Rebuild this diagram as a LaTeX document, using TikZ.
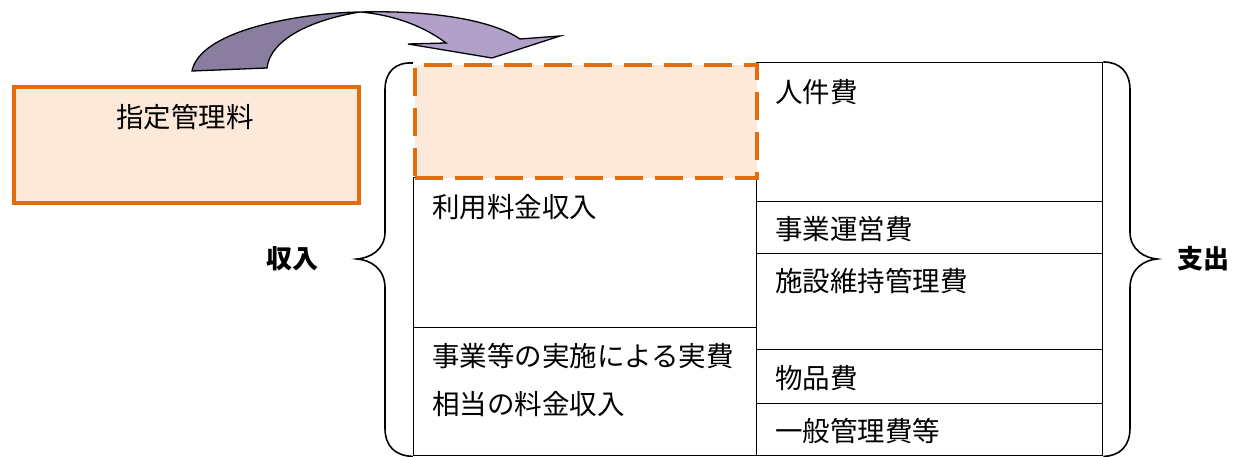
\documentclass[tikz,border=0pt]{standalone}
\usepackage{fontspec}
\setmainfont{Noto Sans CJK JP}
\usetikzlibrary{positioning}
\definecolor{feeorange}{RGB}{228,108,10}
\definecolor{feefill}{RGB}{253,233,217}
\definecolor{arrowdark}{RGB}{137,125,160}
\definecolor{arrowlight}{RGB}{177,160,199}

\begin{document}
\begin{tikzpicture}[x=1pt,y=-1pt,
    cell/.style={draw=black, line width=1.4pt, inner sep=0pt, anchor=north west},
    celltext/.style={anchor=west, inner sep=0pt, font=\fontsize{27.5}{30}\selectfont},
    sidelabel/.style={inner sep=0pt, font=\fontsize{26}{30}\selectfont\bfseries},
    orangebox/.style={draw=feeorange, fill=feefill, line width=4pt, inner sep=0pt, anchor=north west},
    brace/.style={draw=black, line width=1.6pt}]
    \useasboundingbox (0,0) rectangle (1243,457);

    % Fee box on the left
    \node[orangebox, minimum width=345pt, minimum height=116pt] (fee) at (12,85) {};
    \node[celltext, anchor=center] (feetext) at (185,117) {指定管理料};

    % Curved arrow
    \draw[line width=1.3pt, fill=arrowdark] (192,71) .. controls (200,30) and (300,13) .. (360,12)
        .. controls (310,20) and (270,40) .. (267,68) -- cycle;
    \draw[line width=1.3pt, fill=arrowlight] (360,12) .. controls (440,10) and (495,22) .. (520,39)
        -- (560,36) -- (492,58) -- (408,44) -- (446,43) .. controls (425,27) and (395,15) .. (360,12);

    % Income column
    \node[cell, minimum width=343pt, minimum height=150pt] (use) at (413,177) {};
    \node[cell, minimum width=343pt, minimum height=128pt] (actual) at (413,327) {};
    \node[celltext] (usetext) at ([shift={(19,30)}]use.north west) {利用料金収入};
    \node[celltext] (actualtext) at ([shift={(19,29)}]actual.north west) {事業等の実施による実費};
    \node[celltext] (actualtextb) at ([shift={(19,77)}]actual.north west) {相当の料金収入};

    % Expense column
    \node[cell, minimum width=346pt, minimum height=139pt] (staff) at (756,62) {};
    \node[cell, minimum width=346pt, minimum height=52pt] (ops) at (756,201) {};
    \node[cell, minimum width=346pt, minimum height=96pt] (facility) at (756,253) {};
    \node[cell, minimum width=346pt, minimum height=54pt] (goods) at (756,349) {};
    \node[cell, minimum width=346pt, minimum height=52pt] (general) at (756,403) {};
    \node[celltext] (stafftext) at ([shift={(19,30)}]staff.north west) {人件費};
    \node[celltext] (opstext) at ([shift={(19,28)}]ops.north west) {事業運営費};
    \node[celltext] (facilitytext) at ([shift={(19,28)}]facility.north west) {施設維持管理費};
    \node[celltext] (goodstext) at ([shift={(19,29)}]goods.north west) {物品費};
    \node[celltext] (generaltext) at ([shift={(19,28)}]general.north west) {一般管理費等};

    % Dashed fee share
    \node[orangebox, dash pattern=on 28pt off 12pt, minimum width=342pt, minimum height=113pt] (share) at (413,63) {};

    % Braces
    \coordinate (ltip) at (357,259);
    \coordinate (rtip) at (1157,259);
    \draw[brace] (share.north west) .. controls (395,62) and (385,72) .. (385,90) -- (385,232)
        .. controls (385,250) and (370,258) .. (ltip) .. controls (370,260) and (385,268) .. (385,288)
        -- (385,428) .. controls (385,446) and (395,456) .. (actual.south west);
    \draw[brace] (staff.north east) .. controls (1120,62) and (1130,72) .. (1130,90) -- (1130,232)
        .. controls (1130,250) and (1145,258) .. (rtip) .. controls (1145,260) and (1130,268) .. (1130,288)
        -- (1130,428) .. controls (1130,446) and (1120,456) .. (general.south east);
    \node[sidelabel, left=38pt of ltip] (income) {収入};
    \node[sidelabel, right=20pt of rtip] (expense) {支出};
\end{tikzpicture}
\end{document}
